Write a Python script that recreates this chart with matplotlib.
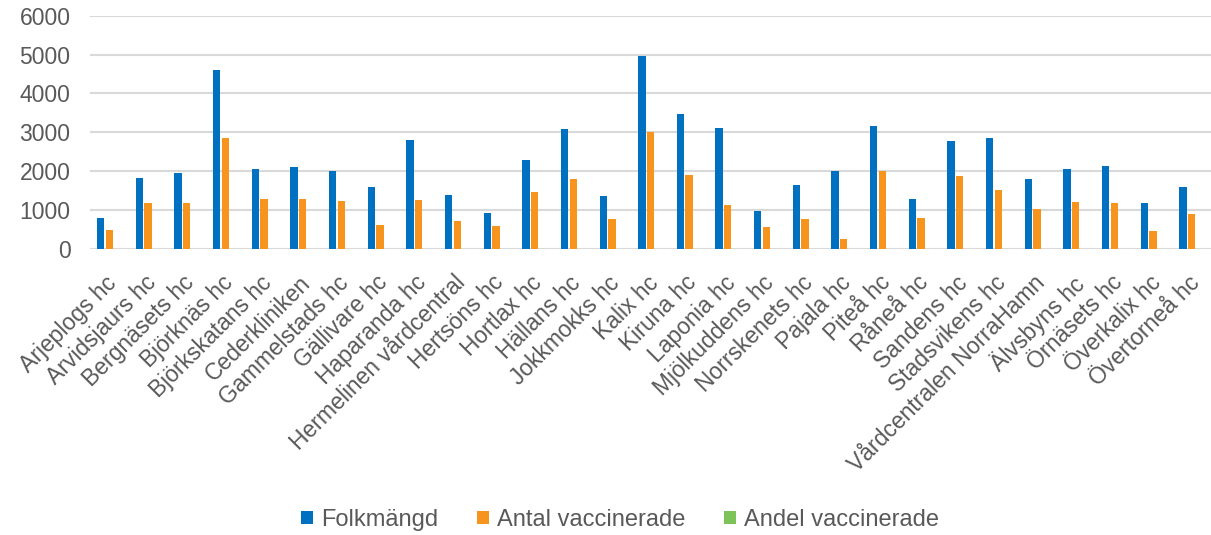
import matplotlib
matplotlib.use("Agg")
import matplotlib.pyplot as plt
import matplotlib.transforms as mtransforms
import numpy as np

categories = ["Arjeplogs hc", "Arvidsjaurs hc", "Bergnäsets hc", "Björknäs hc",
              "Björkskatans hc", "Cederkliniken", "Gammelstads hc", "Gällivare hc",
              "Haparanda hc", "Hermelinen vårdcentral", "Hertsöns hc", "Hortlax hc",
              "Hällans hc", "Jokkmokks hc", "Kalix hc", "Kiruna hc", "Laponia hc",
              "Mjölkuddens hc", "Norrskenets hc", "Pajala hc", "Piteå hc", "Råneå hc",
              "Sandens hc", "Stadsvikens hc", "Vårdcentralen NorraHamn", "Älvsbyns hc",
              "Örnäsets hc", "Överkalix hc", "Övertorneå hc"]

folkmangd = [800, 1815, 1960, 4600, 2070, 2100, 2010, 1590, 2800, 1390, 935, 2285,
             3085, 1360, 4970, 3475, 3115, 975, 1645, 2010, 3160, 1285, 2775, 2860,
             1805, 2055, 2125, 1190, 1600]
antal_vacc = [495, 1180, 1180, 2860, 1295, 1285, 1240, 625, 1265, 730, 580, 1475,
              1800, 770, 3000, 1900, 1140, 575, 780, 255, 1995, 790, 1875, 1525,
              1025, 1215, 1180, 455, 910]
andel_vacc = [0.62, 0.65, 0.6, 0.62, 0.63, 0.61, 0.62, 0.39, 0.45, 0.53, 0.62, 0.65,
              0.58, 0.57, 0.6, 0.55, 0.37, 0.59, 0.47, 0.13, 0.63, 0.61, 0.68, 0.53,
              0.57, 0.59, 0.56, 0.38, 0.57]

series_names = ["Folkmängd", "Antal vaccinerade", "Andel vaccinerade"]
colors = ["#0070C0", "#F7941D", "#7DC35A"]
text_color = "#595959"

plt.rcParams['font.family'] = ['Liberation Sans', 'DejaVu Sans']

fig = plt.figure(figsize=(12.11, 5.35), dpi=100)
ax = fig.add_axes([90/1211, 1-249/535, 1-90/1211, (249-15.7)/535])

x = np.arange(len(categories))
w = 0.19
step = 0.224
for i, (vals, name, c) in enumerate(zip([folkmangd, antal_vacc, andel_vacc], series_names, colors)):
    ax.bar(x + (i-1)*step, vals, width=w, color=c, label=name, zorder=3)

ax.set_xlim(-0.5, len(categories)-0.5)
ax.set_ylim(0, 6000)
ax.set_yticks(range(0, 6001, 1000))
ax.yaxis.grid(True, color="#D9D9D9", linewidth=1.5, zorder=0)
ax.set_axisbelow(True)
for s in ax.spines.values():
    s.set_visible(False)
ax.tick_params(axis='both', length=0, colors=text_color)
ax.tick_params(axis='y', labelsize=16.5, pad=14)
ax.set_xticks(x)
ax.set_xticklabels(categories, rotation=45, ha='right', rotation_mode='anchor',
                   fontsize=16.5, color=text_color)
ax.tick_params(axis='x', pad=16)
offset = mtransforms.ScaledTranslation(-4/100, 0, fig.dpi_scale_trans)
for lbl in ax.get_xticklabels():
    lbl.set_transform(lbl.get_transform() + offset)

handles, labels = ax.get_legend_handles_labels()
leg = fig.legend(handles, labels, loc='center', bbox_to_anchor=(620/1211, 1-520/535),
                 ncol=3, frameon=False, fontsize=17, handlelength=0.49, handleheight=0.49,
                 handletextpad=0.34, columnspacing=1.65, borderpad=0)
for t in leg.get_texts():
    t.set_color(text_color)

fig.savefig("out.png", dpi=100)
